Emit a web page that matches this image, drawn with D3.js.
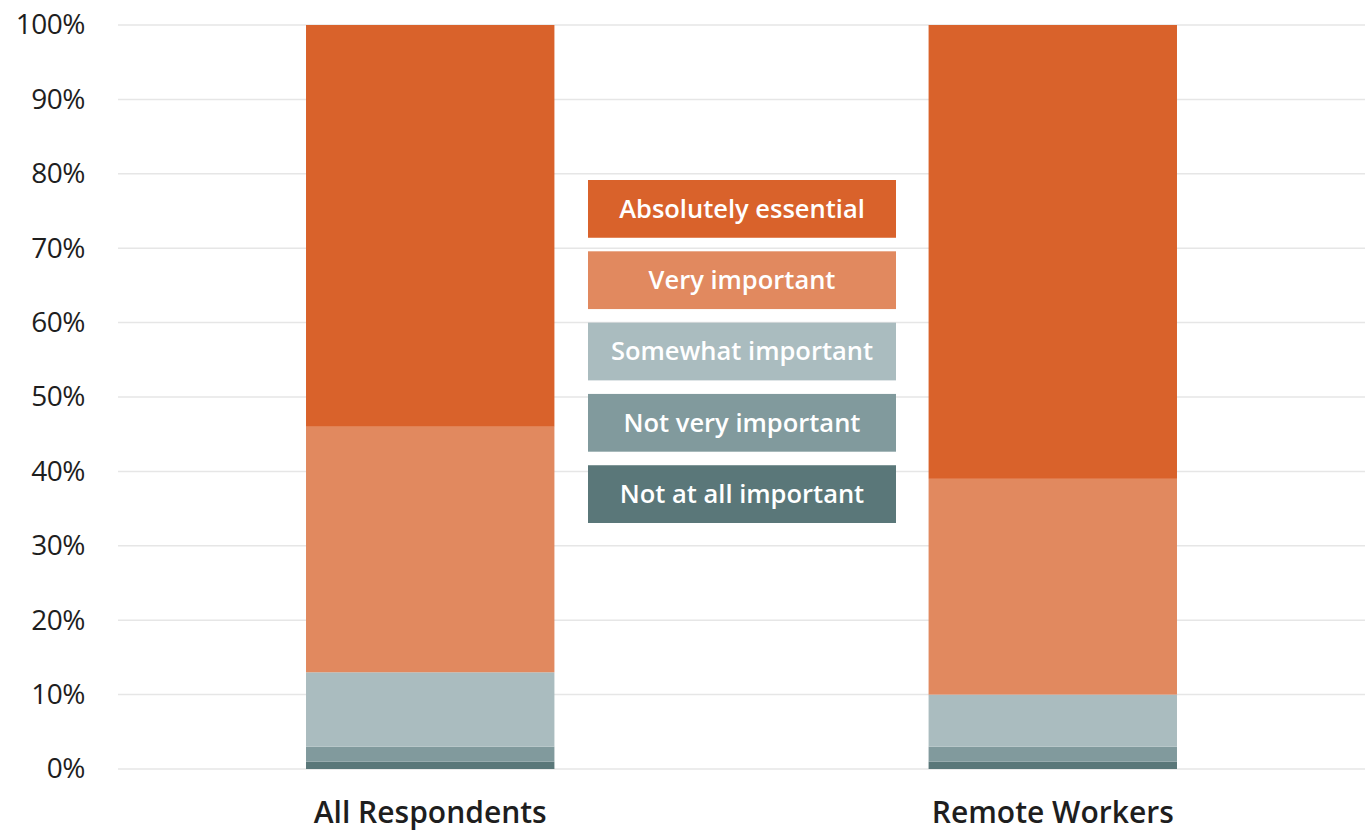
<!DOCTYPE html>
<html>
<head>
<meta charset="utf-8">
<script src="https://cdn.jsdelivr.net/npm/d3@7"></script>
<style>
  body { margin: 0; background: #fff; }
  text { font-family: "Open Sans", Lato, sans-serif; }
</style>
</head>
<body>
<div id="chart"></div>
<script>
// data (percent of respondents)
const groups = ["All Respondents", "Remote Workers"];
const levels = ["Not at all important", "Not very important", "Somewhat important", "Very important", "Absolutely essential"];
const notAtAll = [1, 1];
const notVery = [2, 2];
const somewhat = [10, 7];
const very = [33, 29];
const essential = [54, 61];
const yTicks = [0, 10, 20, 30, 40, 50, 60, 70, 80, 90, 100];

const colors = ["#5a7779", "#819a9d", "#aabcbf", "#e1895f", "#d9622b"];

const width = 1370;
const height = 832;
const margin = {left: 118, right: 5, top: 25, bottom: 63};

const svg = d3.select("#chart")
  .append("svg")
  .attr("width", width)
  .attr("height", height);

// build rows for the stack
const table = groups.map((g, i) => ({
  group: g,
  [levels[0]]: notAtAll[i],
  [levels[1]]: notVery[i],
  [levels[2]]: somewhat[i],
  [levels[3]]: very[i],
  [levels[4]]: essential[i]
}));
const series = d3.stack().keys(levels)(table);

const y = d3.scaleLinear()
  .domain([0, 100])
  .range([height - margin.bottom, margin.top]);

const x = d3.scaleBand()
  .domain(groups)
  .range([margin.left, width - margin.right])
  .paddingInner(0.601)
  .paddingOuter(0.302);

const color = d3.scaleOrdinal().domain(levels).range(colors);

// gridlines
svg.append("g")
  .selectAll("line")
  .data(yTicks)
  .join("line")
    .attr("x1", margin.left)
    .attr("x2", width - margin.right)
    .attr("y1", d => y(d))
    .attr("y2", d => y(d))
    .attr("stroke", "#e6e6e6")
    .attr("stroke-width", 1.5);

// y axis labels
const yAxis = svg.append("g")
  .attr("transform", `translate(${margin.left - 33}, 0)`)
  .call(d3.axisLeft(y).tickValues(yTicks).tickFormat(d => d + "%").tickSize(0).tickPadding(0));
yAxis.select(".domain").remove();
yAxis.selectAll("text")
  .attr("font-size", 28)
  .attr("font-family", "'Open Sans', sans-serif")
  .attr("font-weight", 500)
  .attr("letter-spacing", -0.5)
  .attr("fill", "#1e1e1e");

// x axis labels
const xAxis = svg.append("g")
  .attr("transform", `translate(0, ${height - margin.bottom})`)
  .call(d3.axisBottom(x).tickSize(0).tickPadding(33));
xAxis.select(".domain").remove();
xAxis.selectAll("text")
  .attr("font-size", 30)
  .attr("font-family", "'Open Sans', sans-serif")
  .attr("font-weight", 600)
  .attr("fill", "#1e1e1e");

// stacked bars
svg.append("g")
  .selectAll("g")
  .data(series)
  .join("g")
    .attr("fill", d => color(d.key))
  .selectAll("rect")
  .data(d => d)
  .join("rect")
    .attr("x", d => x(d.data.group))
    .attr("y", d => y(d[1]))
    .attr("height", d => y(d[0]) - y(d[1]))
    .attr("width", x.bandwidth());

// legend in the middle, top item first
const legendItems = levels.slice().reverse();
const ly = d3.scaleBand()
  .domain(legendItems)
  .range([180, 523])
  .paddingInner(0.19);

const legend = svg.append("g")
  .selectAll("g")
  .data(legendItems)
  .join("g")
    .attr("transform", d => `translate(588, ${ly(d)})`);

legend.append("rect")
  .attr("width", 308)
  .attr("height", ly.bandwidth())
  .attr("fill", d => color(d));

legend.append("text")
  .attr("x", 154)
  .attr("y", ly.bandwidth() / 2)
  .attr("dy", "0.35em")
  .attr("text-anchor", "middle")
  .attr("font-size", 25.5)
  .attr("font-weight", 600)
  .attr("fill", "#fff")
  .text(d => d);
</script>
</body>
</html>
